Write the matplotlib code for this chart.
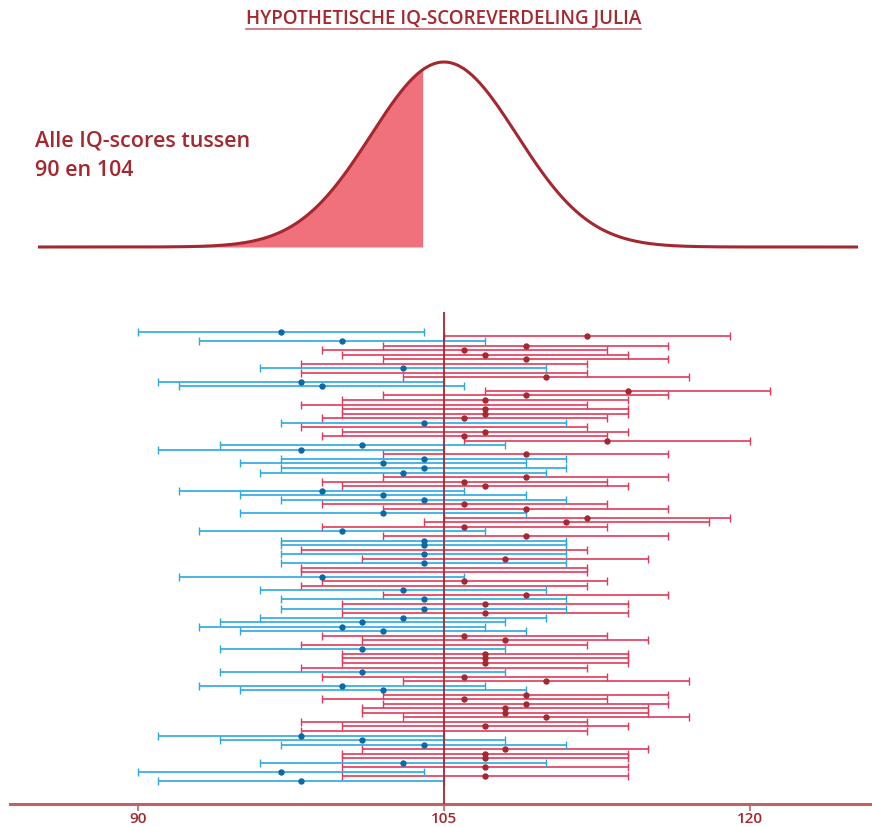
import numpy as np
import matplotlib
matplotlib.use("Agg")
import matplotlib.pyplot as plt
from matplotlib.lines import Line2D

# gemeten IQ-scores (100 herhalingen) en marge van het 95%-interval
means = [97, 112, 100, 109, 106, 107, 109, 105, 103, 105,
         110, 98, 99, 114, 109, 107, 105, 107, 107, 106,
         104, 105, 107, 106, 113, 101, 98, 109, 104, 102,
         104, 103, 109, 106, 107, 99, 102, 104, 106, 109,
         102, 112, 111, 106, 100, 109, 104, 104, 105, 104,
         108, 104, 105, 105, 99, 106, 105, 103, 109, 104,
         107, 104, 107, 103, 101, 100, 102, 106, 108, 105,
         101, 107, 107, 107, 105, 101, 106, 110, 100, 102,
         109, 106, 109, 108, 108, 110, 105, 107, 105, 98,
         101, 104, 108, 107, 107, 103, 107, 97, 107, 98]
margin = 7
true_iq = 105
shade_from, shade_to = 90, 104
ticks = [90, 105, 120]

title = "HYPOTHETISCHE IQ-SCOREVERDELING JULIA"
note = "Alle IQ-scores tussen\n90 en 104"

DARK_RED = "#a3282f"
LINE_RED = "#e03a5a"
LINE_BLUE = "#2aa8e0"
DOT_BLUE = "#0b6aa6"
FILL = "#f0707c"
SPINE = "#bb6468"

W, H = 872, 827
plt.rcParams["font.family"] = ["Open Sans", "DejaVu Sans"]

fig = plt.figure(figsize=(W / 100, H / 100), dpi=100)

px_per_unit = 20.4
x0 = 90 - (138 - 10) / px_per_unit
x1 = 90 + (W - 138) / px_per_unit
left = 10 / W

# bovenste paneel: normale verdeling
sd = margin / 1.96
ax_top = fig.add_axes([left, 1 - 247 / H, 1 - left, (247 - 62) / H])
xs = np.linspace(90 - (138 - 38) / px_per_unit, 90 + (858 - 138) / px_per_unit, 600)
pdf = np.exp(-0.5 * ((xs - true_iq) / sd) ** 2)
ax_top.plot(xs, pdf, color=DARK_RED, lw=2.2, clip_on=False, solid_capstyle="butt")
mask = (xs >= shade_from) & (xs <= shade_to)
ax_top.fill_between(xs[mask], 0, pdf[mask], color=FILL, lw=0)
ax_top.set_xlim(x0, x1)
ax_top.set_ylim(0, 1)
ax_top.axis("off")
fig.text(35 / W, 1 - 156 / H, note, color=DARK_RED, fontsize=15.5,
         fontweight="semibold", va="center", ha="left", linespacing=1.5)

# onderste paneel: intervallen
ax = fig.add_axes([left, 1 - 804 / H, 1 - left, (804 - 312) / H])
ys = np.arange(len(means))
vals = np.array(means)
below = vals < true_iq
for sel, lc, dc in [(~below, LINE_RED, DARK_RED), (below, LINE_BLUE, DOT_BLUE)]:
    ax.errorbar(vals[sel], ys[sel], xerr=margin, fmt="none", ecolor=lc,
                elinewidth=1.2, capsize=2.6, capthick=1.0, zorder=2)
    dots = sel & (vals != true_iq)
    ax.plot(vals[dots], ys[dots], "o", color=dc, ms=4.6, mew=0, zorder=3)
ax.axvline(true_iq, color=DARK_RED, lw=1.3, zorder=4)

ax.set_xlim(x0, x1)
ax.set_ylim(len(means) - 1 + 5.1, -4.4)
ax.set_yticks([])
ax.set_xticks(ticks)
ax.set_xticklabels([str(t) for t in ticks])
for s in ["top", "left", "right"]:
    ax.spines[s].set_visible(False)
ax.spines["bottom"].set_color(SPINE)
ax.spines["bottom"].set_linewidth(2.2)
ax.tick_params(axis="x", colors=SPINE, length=5, width=1.2, pad=1,
               labelcolor=DARK_RED, labelsize=11)
for lab in ax.get_xticklabels():
    lab.set_fontweight("semibold")

# titel met onderstreping
t = fig.text(0.509, 1 - 19 / H, title, color=DARK_RED, fontsize=13.5,
             fontweight="semibold", ha="center", va="center")
fig.canvas.draw()
bb = t.get_window_extent().transformed(fig.transFigure.inverted())
uy = 1 - 29 / H
fig.add_artist(Line2D([bb.x0, bb.x1], [uy, uy], color="#c86a70", lw=1.2,
                      transform=fig.transFigure))

fig.savefig("out.png", dpi=100)
